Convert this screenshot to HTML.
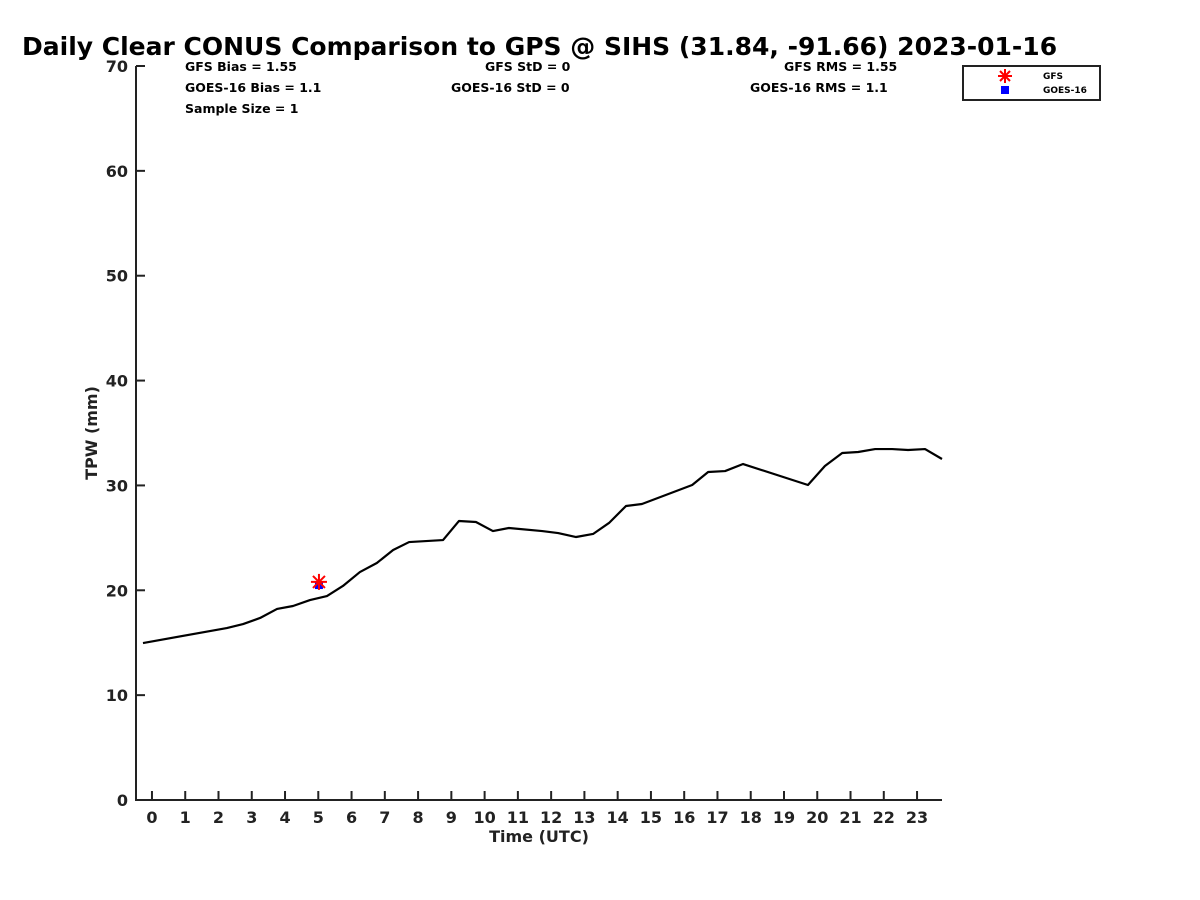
<!DOCTYPE html>
<html><head><meta charset="utf-8"><style>
body{margin:0;background:#fff;}
svg{display:block;font-family:"DejaVu Sans","Liberation Sans",sans-serif;font-weight:bold;}
</style></head><body>
<svg id="chart" width="1200" height="900" viewBox="0 0 1200 900">
<rect width="1200" height="900" fill="#fff"/>
<text x="22" y="55" font-size="25" fill="#000">Daily Clear CONUS Comparison to GPS @ SIHS (31.84, -91.66) 2023-01-16</text>
<g font-size="12.5" fill="#000">
<text x="185" y="71">GFS Bias = 1.55</text>
<text x="185" y="92">GOES-16 Bias = 1.1</text>
<text x="185" y="113">Sample Size = 1</text>
<text x="485" y="71">GFS StD = 0</text>
<text x="451" y="92">GOES-16 StD = 0</text>
<text x="784" y="71">GFS RMS = 1.55</text>
<text x="750" y="92">GOES-16 RMS = 1.1</text>
</g>
<g id="axes"></g>
<g id="marks"></g>
<g>
<rect x="963" y="66" width="137" height="34" fill="#fff" stroke="#222" stroke-width="2"/>
<g stroke="#f00" stroke-width="2">
<line x1="1005" y1="69" x2="1005" y2="83"/><line x1="998" y1="76" x2="1012" y2="76"/>
<line x1="1000" y1="71" x2="1010" y2="81"/><line x1="1010" y1="71" x2="1000" y2="81"/></g>
<rect x="1001" y="86" width="8" height="8" fill="#00f"/>
<text x="1043" y="79" font-size="9">GFS</text>
<text x="1043" y="93" font-size="9">GOES-16</text>
</g>
</svg>
<script>
const hours=[-0.27,2.25,2.74,3.25,3.76,4.24,4.75,5.26,5.74,6.25,6.76,7.25,7.73,8.75,9.23,9.74,10.25,10.73,11.73,12.21,12.75,13.26,13.74,14.25,14.73,16.24,16.72,17.23,17.77,19.72,20.23,20.75,21.23,21.74,22.25,22.73,23.24,23.75];
const gpsTpw=[14.97,16.4,16.78,17.36,18.22,18.5,19.07,19.45,20.41,21.74,22.6,23.84,24.6,24.79,26.61,26.51,25.65,25.94,25.65,25.46,25.08,25.37,26.42,28.04,28.23,30.04,31.28,31.37,32.04,30.04,31.85,33.09,33.19,33.47,33.47,33.38,33.47,32.52];
const gfsTime=[5.02];
const gfsTpw=[20.8];
const goesTime=[5.02];
const goesTpw=[20.5];
const xTicks=[0,1,2,3,4,5,6,7,8,9,10,11,12,13,14,15,16,17,18,19,20,21,22,23];
const yTicks=[0,10,20,30,40,50,60,70];

const NS="http://www.w3.org/2000/svg";
const X0=136,X1=942,Y0=800,Y1=66;
const xMin=-0.48,xMax=23.75,yMin=0,yMax=70;
const sx=v=>X0+(v-xMin)/(xMax-xMin)*(X1-X0);
const sy=v=>Y0-(v-yMin)/(yMax-yMin)*(Y0-Y1);
function mk(tag,attrs,parent){const e=document.createElementNS(NS,tag);for(const k in attrs)e.setAttribute(k,attrs[k]);parent.appendChild(e);return e;}
const axes=document.getElementById('axes'),marks=document.getElementById('marks');
let a=mk('path',{d:`M${X0},${Y1}V${Y0}H${X1}`,fill:'none',stroke:'#222','stroke-width':2},axes);


yTicks.forEach(v=>{
 const y=sy(v);
 let t=mk('line',{x1:X0,x2:X0+9,y1:y,y2:y,stroke:'#222','stroke-width':2},axes);
 
 
 let l=mk('text',{x:X0-8,y:y+6,'text-anchor':'end','font-size':16,fill:'#222'},axes);
 l.textContent=v;
 
 
});
xTicks.forEach(v=>{
 const x=sx(v);
 let t=mk('line',{x1:x,x2:x,y1:Y0,y2:Y0-9,stroke:'#222','stroke-width':2},axes);
 
 
 let l=mk('text',{x:x,y:Y0+23,'text-anchor':'middle','font-size':16,fill:'#222'},axes);
 l.textContent=v;
 
 
});
let xl=mk('text',{x:539,y:842,'text-anchor':'middle','font-size':16,fill:'#222'},axes);
xl.textContent='Time (UTC)';


let yl=mk('text',{x:0,y:0,'text-anchor':'middle','font-size':16,fill:'#222',transform:'translate(97,433) rotate(-90)'},axes);
yl.textContent='TPW (mm)';


let line=mk('polyline',{points:hours.map((h,i)=>sx(h)+','+sy(gpsTpw[i])).join(' '),fill:'none',stroke:'#000','stroke-width':2.2,'stroke-linejoin':'round'},marks);


goesTime.forEach((t,i)=>{
 const x=sx(t),y=sy(goesTpw[i]);
 let r=mk('rect',{x:x-4,y:y-4,width:8,height:8,fill:'#00f'},marks);
 
 
});
gfsTime.forEach((t,i)=>{
 const x=sx(t),y=sy(gfsTpw[i]);
 let g=mk('g',{stroke:'#f00','stroke-width':2},marks);
 
 
 mk('line',{x1:x,x2:x,y1:y-8,y2:y+8},g);
 mk('line',{x1:x-8,x2:x+8,y1:y,y2:y},g);
 mk('line',{x1:x-6,x2:x+6,y1:y-6,y2:y+6},g);
 mk('line',{x1:x+6,x2:x-6,y1:y-6,y2:y+6},g);
});
</script>
</body></html>
